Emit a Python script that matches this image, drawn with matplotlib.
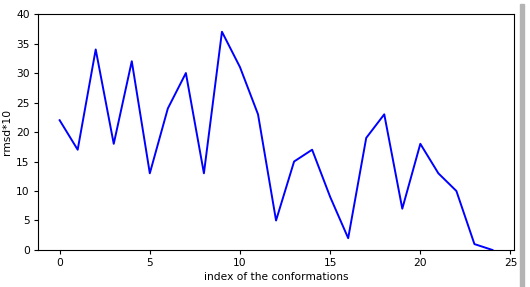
import matplotlib
matplotlib.use('Agg')
import matplotlib.pyplot as plt
from matplotlib.patches import Rectangle

# rmsd values (x10) per conformation index
conformations = list(range(25))
rmsd10 = [22, 17, 34, 18, 32, 13, 24, 30, 13, 37, 31, 23, 5, 15, 17, 9, 2,
          19, 23, 7, 18, 13, 10, 1, 0]

plt.rcParams['font.size'] = 7.7
plt.rcParams['axes.linewidth'] = 0.8
plt.rcParams['xtick.major.size'] = 3
plt.rcParams['ytick.major.size'] = 3
plt.rcParams['xtick.major.pad'] = 3
plt.rcParams['ytick.major.pad'] = 3

fig = plt.figure(figsize=(5.3, 2.87), dpi=100)
ax = fig.add_axes([0.0717, 0.129, 0.8983, 0.822])
ax.plot(conformations, rmsd10, color='blue', lw=1.4)
ax.set_ylim(0, 40)
ax.set_xlabel('index of the conformations', labelpad=3)
ax.set_ylabel('rmsd*10', labelpad=3)

# grey bar at the right edge of the screenshot
fig.patches.append(Rectangle((0.981, 0.0), 0.007, 0.985, transform=fig.transFigure,
                             color='#b4b4b4', zorder=0))

fig.savefig('out.png', dpi=100)
